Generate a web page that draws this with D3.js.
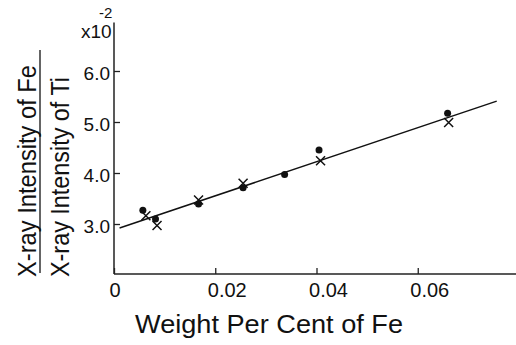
<!DOCTYPE html>
<html>
<head>
<meta charset="utf-8">
<script src="https://cdn.jsdelivr.net/npm/d3@7"></script>
<style>
  body { margin: 0; background: #fff; }
  text { font-family: 'Liberation Sans', sans-serif; fill: #111; }
</style>
</head>
<body>
<div id="chart"></div>
<script>
// Data
var dotX = [0.0057, 0.0082, 0.0167, 0.0255, 0.0337, 0.0405, 0.0659]
var dotY = [3.27, 3.10, 3.39, 3.71, 3.97, 4.45, 5.17]
var crossX = [0.0063, 0.0085, 0.0167, 0.0255, 0.0408, 0.0661]
var crossY = [3.16, 2.97, 3.47, 3.80, 4.24, 4.99]
var fitX = [0.0011, 0.0756]
var fitY = [2.92, 5.41]
var xTicks = [0, 0.02, 0.04, 0.06]
var xTickLabels = ['0', '0.02', '0.04', '0.06']
var yTicks = [3, 4, 5, 6]
var yTickLabels = ['3.0', '4.0', '5.0', '6.0']

var width = 516
var height = 345

var svg = d3.select('#chart')
  .append('svg')
  .attr('width', width)
  .attr('height', height)

var xPositionScale = d3.scaleLinear().domain([0, 0.08]).range([114, 519])
var yPositionScale = d3.scaleLinear().domain([2, 7]).range([275, 20])

// axes (ticks point inward, like the original)
var xAxis = d3.axisTop(xPositionScale)
  .tickValues(xTicks)
  .tickSize(6)
  .tickFormat('')
svg.append('g')
  .attr('class', 'axis x-axis')
  .attr('transform', 'translate(0,274)')
  .call(xAxis)

var yAxis = d3.axisRight(yPositionScale)
  .tickValues(yTicks)
  .tickSize(6)
  .tickFormat('')
svg.append('g')
  .attr('class', 'axis y-axis')
  .attr('transform', 'translate(114,0)')
  .call(yAxis)

svg.selectAll('.axis .domain').remove()
svg.selectAll('.axis line').attr('stroke', '#222').attr('stroke-width', 1.3)

svg.append('line')
  .attr('x1', 114).attr('x2', 516)
  .attr('y1', 274).attr('y2', 274)
  .attr('stroke', '#222').attr('stroke-width', 1.5)
svg.append('line')
  .attr('x1', 114).attr('x2', 114)
  .attr('y1', yPositionScale(6.95)).attr('y2', 274)
  .attr('stroke', '#222').attr('stroke-width', 1.5)

// tick labels
svg.selectAll('.xlab')
  .data(xTicks)
  .enter()
  .append('text')
  .attr('class', 'xlab')
  .attr('x', (d, i) => xPositionScale(d) + (i === 0 ? 1 : 12))
  .attr('y', 297)
  .attr('text-anchor', 'middle')
  .attr('font-size', 20)
  .text((d, i) => xTickLabels[i])

svg.selectAll('.ylab')
  .data(yTicks)
  .enter()
  .append('text')
  .attr('class', 'ylab')
  .attr('x', 110)
  .attr('y', d => yPositionScale(d) + 9)
  .attr('text-anchor', 'end')
  .attr('font-size', 19)
  .text((d, i) => yTickLabels[i])

// x10^-2 as one text with a raised tspan
var mult = svg.append('text')
  .attr('x', 81).attr('y', 38)
  .attr('font-size', 19)
mult.append('tspan').text('x10')
mult.append('tspan')
  .attr('x', 99).attr('dy', -20)
  .attr('font-size', 15)
  .text('-2')

// fitted line
svg.append('line')
  .attr('x1', xPositionScale(fitX[0])).attr('y1', yPositionScale(fitY[0]))
  .attr('x2', xPositionScale(fitX[1])).attr('y2', yPositionScale(fitY[1]))
  .attr('stroke', '#111').attr('stroke-width', 1.5)

// dots
svg.selectAll('.dot')
  .data(dotX)
  .enter()
  .append('circle')
  .attr('class', 'dot')
  .attr('cx', d => xPositionScale(d))
  .attr('cy', (d, i) => yPositionScale(dotY[i]))
  .attr('r', 3.5)
  .attr('fill', '#111')

// crosses
svg.selectAll('.cross')
  .data(crossX)
  .enter()
  .append('path')
  .attr('class', 'cross')
  .attr('d', function(d, i) {
    var cx = xPositionScale(d)
    var cy = yPositionScale(crossY[i])
    var s = 4.5
    return `M${cx - s},${cy - s}L${cx + s},${cy + s}M${cx + s},${cy - s}L${cx - s},${cy + s}`
  })
  .attr('stroke', '#111')
  .attr('stroke-width', 1.5)
  .attr('fill', 'none')

// x title
svg.append('text')
  .attr('x', 135).attr('y', 333)
  .attr('font-size', 26)
  .attr('textLength', 268)
  .attr('lengthAdjust', 'spacingAndGlyphs')
  .text('Weight Per Cent of Fe')

// y title as a fraction, rotated
var yTitle = svg.append('g')
yTitle.append('text')
  .attr('transform', 'translate(36,277) rotate(-90)')
  .attr('font-size', 25)
  .attr('textLength', 212)
  .attr('lengthAdjust', 'spacingAndGlyphs')
  .text('X-ray Intensity of Fe')
yTitle.append('line')
  .attr('x1', 40).attr('x2', 40)
  .attr('y1', 50).attr('y2', 273)
  .attr('stroke', '#111').attr('stroke-width', 1.3)
yTitle.append('text')
  .attr('transform', 'translate(69,277) rotate(-90)')
  .attr('font-size', 25)
  .attr('textLength', 200)
  .attr('lengthAdjust', 'spacingAndGlyphs')
  .text('X-ray Intensity of Ti')
</script>
</body>
</html>
